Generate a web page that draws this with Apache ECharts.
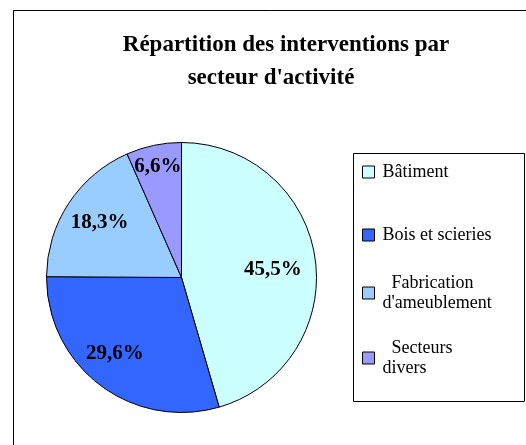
<!DOCTYPE html>
<html>
<head>
<meta charset="utf-8">
<script src="https://cdn.jsdelivr.net/npm/echarts@6/dist/echarts.min.js"></script>
<style>
  html, body { margin: 0; padding: 0; background: #fff; }
  #chart { width: 526px; height: 445px; }
</style>
</head>
<body>
<div id="chart"></div>
<script>
  // secteurs et parts (%)
  const secteurs = ['Bâtiment', 'Bois et scieries', "Fabrication d'ameublement", 'Secteurs divers'];
  const parts = [45.5, 29.6, 18.3, 6.6];
  const couleurs = ['#CCFFFF', '#3366FF', '#99CCFF', '#9999FF'];
  // texte affiché dans la légende (retours à la ligne comme dans Excel)
  const libelles = ['Bâtiment', 'Bois et scieries', "  Fabrication\nd'ameublement", '  Secteurs\ndivers'];

  const chart = echarts.init(document.getElementById('chart'));

  const serif = "'Liberation Serif', 'Times New Roman', serif";
  const legendTops = [162, 225, 254, 323];
  const legendPad = [0, 0, 38, 30];
  // petits décalages des étiquettes (placement Excel)
  const labelOffsets = [[-8, 6], [-6, -4], [2, 0], [-3, -13]];

  const legends = secteurs.map((nom, i) => ({
    left: 362,
    top: legendTops[i],
    padding: 0,
    orient: 'vertical',
    icon: 'rect',
    itemWidth: 12,
    itemHeight: 12,
    selectedMode: false,
    itemStyle: { borderColor: '#000', borderWidth: 1 },
    formatter: () => libelles[i],
    textStyle: {
      fontFamily: serif,
      fontSize: 18,
      lineHeight: 20,
      color: '#000',
      padding: [legendPad[i], 0, 0, 3]
    },
    data: [nom]
  }));

  const donnees = secteurs.map((nom, i) => ({
    name: nom,
    value: parts[i],
    itemStyle: { color: couleurs[i] }
  }));

  chart.setOption({
    animation: false,
    title: [
      {
        text: 'Répartition des interventions par',
        left: 281, top: 29, textAlign: 'center',
        textStyle: { fontFamily: serif, fontSize: 23, fontWeight: 'bold', color: '#000' }
      },
      {
        text: "secteur d'activité",
        left: 266, top: 62, textAlign: 'center',
        textStyle: { fontFamily: serif, fontSize: 23, fontWeight: 'bold', color: '#000' }
      }
    ],
    legend: legends,
    graphic: [
      { type: 'rect', shape: { x: 13.5, y: 10.5, width: 600, height: 600 },
        style: { fill: 'none', stroke: '#000', lineWidth: 1 }, silent: true, z: -10 },
      { type: 'rect', shape: { x: 353.5, y: 153.5, width: 171, height: 248 },
        style: { fill: 'none', stroke: '#000', lineWidth: 1 }, silent: true }
    ],
    series: [
      {
        type: 'pie',
        center: [181.5, 277.5],
        radius: 135,
        startAngle: 90,
        silent: true,
        label: { show: false },
        labelLine: { show: false },
        itemStyle: { borderColor: '#000', borderWidth: 1 },
        data: donnees
      },
      {
        // anneau transparent, sert seulement à placer les étiquettes
        type: 'pie',
        center: [181.5, 277.5],
        radius: [60, 135],
        startAngle: 90,
        silent: true,
        itemStyle: { color: 'transparent' },
        labelLine: { show: false },
        label: {
          show: true,
          position: 'inside',
          fontFamily: serif,
          fontSize: 21,
          fontWeight: 'bold',
          color: '#000',
          formatter: p => p.value.toFixed(1).replace('.', ',') + '%'
        },
        data: secteurs.map((nom, i) => ({
          name: nom,
          value: parts[i],
          label: { offset: labelOffsets[i] }
        }))
      }
    ]
  });
</script>
</body>
</html>
